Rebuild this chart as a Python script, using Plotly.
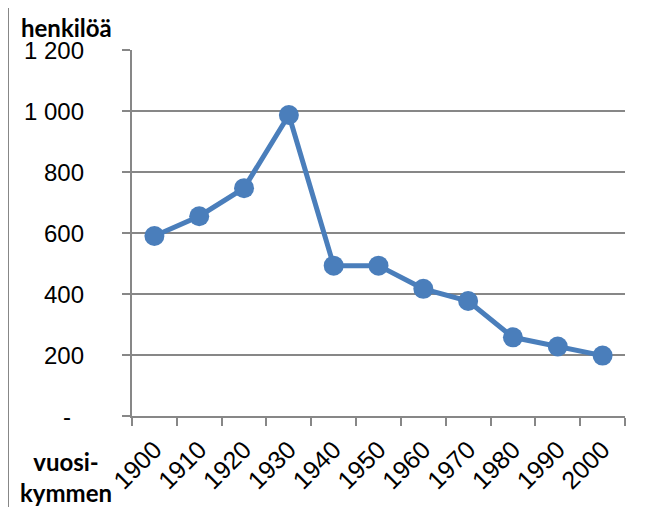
import plotly.graph_objects as go

decades = ["1900", "1910", "1920", "1930", "1940", "1950", "1960", "1970", "1980", "1990", "2000"]
persons = [590, 655, 747, 987, 493, 493, 417, 377, 258, 228, 198]
y_tickvals = [0, 200, 400, 600, 800, 1000, 1200]
y_ticktext = ["-", "200", "400", "600", "800", "1 000", "1 200"]
y_title = "henkilöä"
x_title = "vuosi-<br>kymmen"

# page body has an 8px margin; work in page pixels and convert
OFF = 8
W, H = 658 - OFF, 507 - OFF
L, R, T, B = 132 - OFF, 33, 50 - OFF, 91
PW, PH = W - L - R, H - T - B

def px(x):
    return (x - OFF - L) / PW

def py(y):
    return (H - B - (y - OFF)) / PH

GRAY = "#878787"
BLUE = "#4A7EBB"
FONT = "Liberation Sans"

fig = go.Figure()
fig.add_trace(go.Scatter(
    x=decades, y=persons, mode="lines+markers",
    line=dict(color=BLUE, width=5),
    marker=dict(color=BLUE, size=20),
    showlegend=False, cliponaxis=False,
))

annotations = []
for v, t in zip(y_tickvals, y_ticktext):
    if t == "-":
        annotations.append(dict(x=px(67), y=v, xref="paper", yref="y", text=t,
                                showarrow=False, xanchor="center", yanchor="middle",
                                font=dict(family=FONT, size=24, color="#000")))
    else:
        annotations.append(dict(x=px(86), y=v, xref="paper", yref="y", text=t,
                                showarrow=False, xanchor="right", yanchor="middle",
                                font=dict(family=FONT, size=24, color="#000")))
annotations.append(dict(x=px(19), y=py(27), xref="paper", yref="paper", text="<b>" + y_title + "</b>",
                        showarrow=False, xanchor="left", yanchor="middle",
                        font=dict(family="Lato", size=24, color="#000")))
annotations.append(dict(x=px(66), y=py(477), xref="paper", yref="paper", text="<b>" + x_title + "</b>",
                        showarrow=False, xanchor="center", yanchor="middle", align="center",
                        font=dict(family="Lato", size=24, color="#000")))

fig.update_layout(
    width=W, height=H,
    margin=dict(l=L, r=R, t=T, b=B),
    paper_bgcolor="white", plot_bgcolor="white",
    annotations=annotations,
    shapes=[dict(type="rect", xref="paper", yref="paper",
                 x0=px(8), x1=px(720), y0=py(560), y1=py(6),
                 line=dict(color=GRAY, width=2), layer="below")],
    xaxis=dict(type="category", showgrid=False, showline=True, linecolor=GRAY, linewidth=2,
               ticks="outside", tickson="boundaries", ticklen=8, tickcolor=GRAY, tickwidth=2,
               tickangle=-45, tickfont=dict(family=FONT, size=25, color="#000"),
               ticklabelstandoff=7, range=[-0.5, 10.5], automargin=False),
    yaxis=dict(range=[0, 1200], tickvals=y_tickvals, showticklabels=False,
               showgrid=True, gridcolor=GRAY, gridwidth=2,
               showline=True, linecolor=GRAY, linewidth=2,
               ticks="outside", ticklen=8, tickcolor=GRAY, tickwidth=2, zeroline=False,
               automargin=False),
)

fig.write_html("out.html")
